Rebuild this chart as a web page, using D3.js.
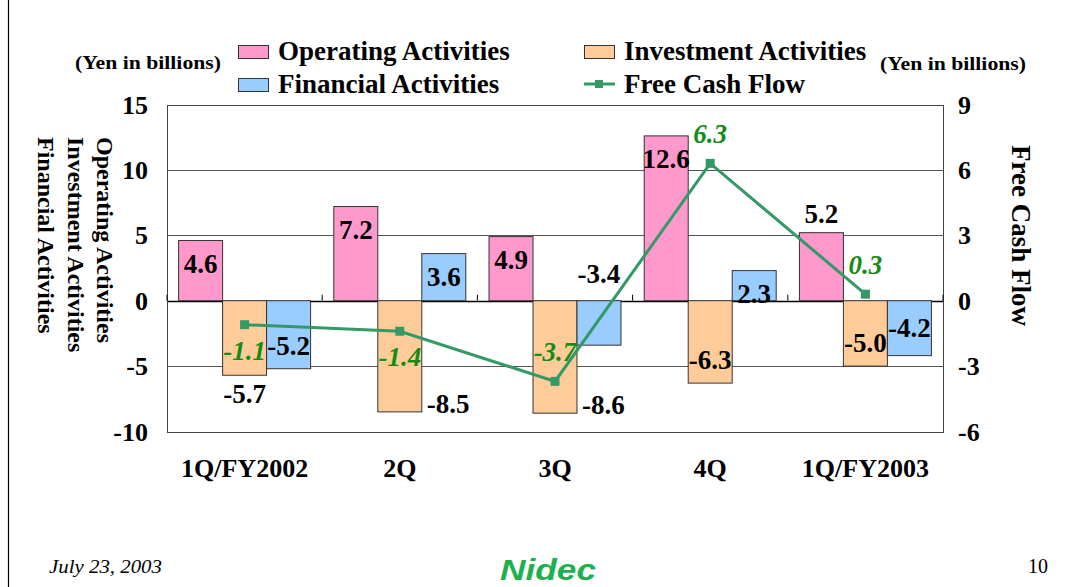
<!DOCTYPE html>
<html>
<head>
<meta charset="utf-8">
<script src="https://cdn.jsdelivr.net/npm/d3@7"></script>
<style>
  body { margin: 0; background: #fff; }
  text { font-family: "Liberation Serif", "Times New Roman", serif; }
</style>
</head>
<body>
<div id="chart"></div>
<script>
/* Chart data */
var categories = ["1Q/FY2002", "2Q", "3Q", "4Q", "1Q/FY2003"];
var operating = [4.6, 7.2, 4.9, 12.6, 5.2];
var investment = [-5.7, -8.5, -8.6, -6.3, -5.0];
var financial = [-5.2, 3.6, -3.4, 2.3, -4.2];
var freeCashFlow = [-1.1, -1.4, -3.7, 6.3, 0.3];
var leftTicks = [-10, -5, 0, 5, 10, 15];
var rightTicks = [-6, -3, 0, 3, 6, 9];

/* where each value label sits (like excel label placement) */
var operatingPos = ["in", "in", "in", "in", "out"];
var investmentPos = ["out", "right", "right", "in", "in"];
var financialPos = ["in", "in", "base", "in", "mid"];
var fcfPos = ["below", "below", "above", "above", "above"];

var series = [
    { name: "Operating Activities", values: operating, pos: operatingPos, color: "#FF99CC" },
    { name: "Investment Activities", values: investment, pos: investmentPos, color: "#FFCC99" },
    { name: "Financial Activities", values: financial, pos: financialPos, color: "#99CCFF" }
];

var width = 1070,
    height = 587;

var plot = { left: 167, right: 943, top: 104.5, bottom: 431.5 };

/* plain hyphen for negatives, like the slide */
function fmt(v) { return v.toFixed(1); }

var svg = d3.select("#chart")
    .append("svg")
    .attr("width", width)
    .attr("height", height);

/* Scales */
var x = d3.scaleBand()
    .domain(categories)
    .range([plot.left, plot.right])
    .padding(0);

var x1 = d3.scaleBand()
    .domain(series.map(function (s) { return s.name; }))
    .range([0, x.bandwidth()])
    .paddingInner(0)
    .paddingOuter(0.264);

var y = d3.scaleLinear().domain([-10, 15]).range([plot.bottom, plot.top]);
var y2 = d3.scaleLinear().domain([-6, 9]).range([plot.bottom, plot.top]);

/* slide frame line on the left */
svg.append("line")
    .attr("x1", 8.5).attr("x2", 8.5)
    .attr("y1", 0).attr("y2", height)
    .attr("stroke", "#000").attr("stroke-width", 1.2);

/* Gridlines */
svg.append("g")
    .selectAll("line")
    .data(leftTicks)
    .enter().append("line")
    .attr("x1", plot.left).attr("x2", plot.right)
    .attr("y1", function (d) { return Math.round(y(d)) + 0.5; })
    .attr("y2", function (d) { return Math.round(y(d)) + 0.5; })
    .attr("stroke", function (d) { return d === 0 ? "#000" : "#555"; })
    .attr("stroke-width", function (d) { return d === 0 ? 1.3 : 1; });

/* Plot border */
svg.append("rect")
    .attr("x", plot.left + 0.5).attr("y", Math.round(plot.top) + 0.5)
    .attr("width", plot.right - plot.left)
    .attr("height", Math.round(plot.bottom) - Math.round(plot.top))
    .attr("fill", "none")
    .attr("stroke", "#444");

/* Bars */
var groups = svg.selectAll(".group")
    .data(series)
    .enter().append("g")
    .attr("class", "group");

groups.selectAll("rect")
    .data(function (s) {
        return s.values.map(function (v, i) { return { s: s, v: v, i: i }; });
    })
    .enter().append("rect")
    .attr("x", function (d) { return x(categories[d.i]) + x1(d.s.name); })
    .attr("width", x1.bandwidth())
    .attr("y", function (d) { return y(Math.max(0, d.v)); })
    .attr("height", function (d) { return Math.abs(y(d.v) - y(0)); })
    .attr("fill", function (d) { return d.s.color; })
    .attr("stroke", "#333")
    .attr("stroke-width", 1);

/* Category ticks at the zero line */
svg.append("g")
    .selectAll("line")
    .data(d3.range(categories.length + 1))
    .enter().append("line")
    .attr("x1", function (i) { return plot.left + i * x.step(); })
    .attr("x2", function (i) { return plot.left + i * x.step(); })
    .attr("y1", y(0)).attr("y2", y(0) - 6)
    .attr("stroke", "#000");

/* Bar value labels */
groups.selectAll(".lbl")
    .data(function (s) {
        return s.values.map(function (v, i) { return { s: s, v: v, i: i, p: s.pos[i] }; });
    })
    .enter().append("text")
    .attr("class", "lbl")
    .attr("font-size", 27)
    .attr("font-weight", "bold")
    .attr("fill", "#000")
    .attr("text-anchor", function (d) { return d.p === "right" ? "start" : "middle"; })
    .attr("x", function (d) {
        var bx = x(categories[d.i]) + x1(d.s.name);
        if (d.p === "right") return bx + x1.bandwidth() + 5;
        return bx + x1.bandwidth() / 2;
    })
    .attr("y", function (d) {
        var end = y(d.v), zero = y(0), dir = d.v >= 0 ? 1 : -1, c;
        if (d.p === "in") c = end + dir * 23;
        else if (d.p === "out") c = end - dir * 19;
        else if (d.p === "right") c = end - 8;
        else if (d.p === "base") c = zero - 27;
        else c = (end + zero) / 2;
        return c + 9;
    })
    .text(function (d) { return fmt(d.v); });

/* Free cash flow line */
var line = d3.line()
    .x(function (d, i) { return x(categories[i]) + x.bandwidth() / 2; })
    .y(function (d) { return y2(d); });

svg.append("path")
    .attr("d", line(freeCashFlow))
    .attr("fill", "none")
    .attr("stroke", "#339966")
    .attr("stroke-width", 3);

svg.selectAll(".marker")
    .data(freeCashFlow)
    .enter().append("rect")
    .attr("class", "marker")
    .attr("x", function (d, i) { return x(categories[i]) + x.bandwidth() / 2 - 4.5; })
    .attr("y", function (d) { return y2(d) - 4.5; })
    .attr("width", 9).attr("height", 9)
    .attr("fill", "#339966");

svg.selectAll(".fcf")
    .data(freeCashFlow)
    .enter().append("text")
    .attr("class", "fcf")
    .attr("font-size", 27)
    .attr("font-weight", "bold")
    .attr("font-style", "italic")
    .attr("fill", "#168C16")
    .attr("text-anchor", "middle")
    .attr("x", function (d, i) { return x(categories[i]) + x.bandwidth() / 2; })
    .attr("y", function (d, i) {
        return y2(d) + (fcfPos[i] === "below" ? 26 : -29) + 9;
    })
    .text(function (d) { return fmt(d); });

/* Left axis labels */
svg.append("g")
    .selectAll("text")
    .data(leftTicks)
    .enter().append("text")
    .attr("x", 148)
    .attr("y", function (d) { return y(d); })
    .attr("dy", "0.35em")
    .attr("text-anchor", "end")
    .attr("font-size", 26)
    .attr("font-weight", "bold")
    .text(function (d) { return d; });

/* Right axis labels */
svg.append("g")
    .selectAll("text")
    .data(rightTicks)
    .enter().append("text")
    .attr("x", 958)
    .attr("y", function (d) { return y2(d); })
    .attr("dy", "0.35em")
    .attr("text-anchor", "start")
    .attr("font-size", 26)
    .attr("font-weight", "bold")
    .text(function (d) { return d; });

/* Category labels */
svg.append("g")
    .selectAll("text")
    .data(categories)
    .enter().append("text")
    .attr("x", function (d) { return x(d) + x.bandwidth() / 2; })
    .attr("y", 477)
    .attr("text-anchor", "middle")
    .attr("font-size", 26)
    .attr("font-weight", "bold")
    .text(function (d) { return d; });

/* Axis titles */
var leftTitle = svg.append("text")
    .attr("transform", "translate(97,137) rotate(90)")
    .attr("font-size", 24)
    .attr("font-weight", "bold");
series.forEach(function (s, i) {
    leftTitle.append("tspan")
        .attr("x", 0)
        .attr("dy", i === 0 ? 0 : 29.5)
        .text(s.name);
});

svg.append("text")
    .attr("transform", "translate(1012,145) rotate(90)")
    .attr("font-size", 27)
    .attr("font-weight", "bold")
    .text("Free Cash Flow");

/* Units */
svg.append("text")
    .attr("x", 75).attr("y", 69)
    .attr("font-size", 18).attr("font-weight", "bold")
    .attr("textLength", 146).attr("lengthAdjust", "spacingAndGlyphs")
    .text("(Yen in billions)");

svg.append("text")
    .attr("x", 880).attr("y", 70)
    .attr("font-size", 18).attr("font-weight", "bold")
    .attr("textLength", 146).attr("lengthAdjust", "spacingAndGlyphs")
    .text("(Yen in billions)");

/* Legend */
var legendItems = [
    { name: series[0].name, color: series[0].color, x: 238, y: 60 },
    { name: series[1].name, color: series[1].color, x: 584, y: 60 },
    { name: series[2].name, color: series[2].color, x: 238, y: 93 },
    { name: "Free Cash Flow", color: null, x: 584, y: 93 }
];

var legend = svg.append("g")
    .selectAll("g")
    .data(legendItems)
    .enter().append("g")
    .attr("transform", function (d) { return "translate(" + d.x + "," + d.y + ")"; });

legend.filter(function (d) { return d.color; })
    .append("rect")
    .attr("x", 0.5).attr("y", -14.5)
    .attr("width", 30).attr("height", 13)
    .attr("fill", function (d) { return d.color; })
    .attr("stroke", "#333");

var fcfLegend = legend.filter(function (d) { return !d.color; });
fcfLegend.append("line")
    .attr("x1", 0).attr("x2", 31)
    .attr("y1", -9).attr("y2", -9)
    .attr("stroke", "#339966").attr("stroke-width", 3);
fcfLegend.append("rect")
    .attr("x", 11).attr("y", -13)
    .attr("width", 8).attr("height", 8)
    .attr("fill", "#339966");

legend.append("text")
    .attr("x", 40)
    .attr("y", 0)
    .attr("font-size", 27)
    .attr("font-weight", "bold")
    .text(function (d) { return d.name; });

/* Footer */
svg.append("text")
    .attr("x", 49).attr("y", 573)
    .attr("font-size", 19).attr("font-style", "italic")
    .attr("textLength", 113).attr("lengthAdjust", "spacingAndGlyphs")
    .text("July 23, 2003");

svg.append("text")
    .attr("x", 1048).attr("y", 573)
    .attr("text-anchor", "end")
    .attr("font-size", 20)
    .text("10");

/* Nidec logo as text */
svg.append("text")
    .attr("x", 500).attr("y", 580)
    .attr("font-size", 30)
    .attr("font-weight", "bold")
    .attr("font-style", "italic")
    .attr("fill", "#1DB04F")
    .attr("textLength", 96).attr("lengthAdjust", "spacingAndGlyphs")
    .style("font-family", "'Liberation Sans', Arial, sans-serif")
    .text("Nidec");
</script>
</body>
</html>
